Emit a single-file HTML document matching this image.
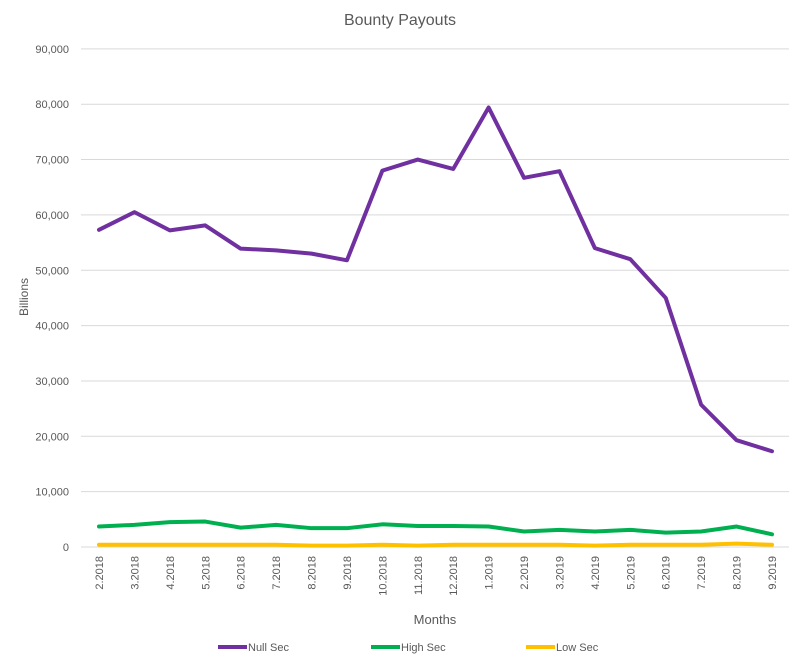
<!DOCTYPE html>
<html><head><meta charset="utf-8"><style>body{margin:0;background:#fff}</style></head><body>
<svg width="800" height="663" xmlns="http://www.w3.org/2000/svg" font-family="Liberation Sans, sans-serif">
<rect width="800" height="663" fill="#fff"/>
<text x="400" y="25" text-anchor="middle" font-size="16" fill="#595959">Bounty Payouts</text>
<g id="grid" stroke="#d9d9d9" stroke-width="1"></g>
<g id="yl" font-size="11" fill="#595959" text-anchor="end"></g>
<g id="xl" font-size="11" fill="#595959"></g>
<text x="28" y="297" font-size="12" fill="#595959" text-anchor="middle" transform="rotate(-90 28 297)">Billions</text>
<text x="435" y="624" font-size="13" fill="#595959" text-anchor="middle">Months</text>
<g id="lines" fill="none" stroke-width="4" stroke-linejoin="round" stroke-linecap="round"></g>
<g font-size="11" fill="#595959">
<line x1="218" y1="647" x2="247" y2="647" stroke="#7030a0" stroke-width="4"/><text x="248" y="651">Null Sec</text>
<line x1="371" y1="647" x2="400" y2="647" stroke="#00b050" stroke-width="4"/><text x="401" y="651">High Sec</text>
<line x1="526" y1="647" x2="555" y2="647" stroke="#ffc000" stroke-width="4"/><text x="556" y="651">Low Sec</text>
</g>
</svg>
<script>
const ns="http://www.w3.org/2000/svg";
const y0=547,k=55.35/10000,x0=99,dx=35.42;
function el(t,a,p,txt){const e=document.createElementNS(ns,t);for(const q in a)e.setAttribute(q,a[q]);if(txt!=null)e.textContent=txt;document.getElementById(p).appendChild(e);}
for(let i=0;i<=9;i++){const y=y0-i*10000*k;el('line',{x1:81,x2:789,y1:y,y2:y},'grid');el('text',{x:69,y:y+4},'yl',(i*10000).toLocaleString('en-US'));}
const labs=['2.2018','3.2018','4.2018','5.2018','6.2018','7.2018','8.2018','9.2018','10.2018','11.2018','12.2018','1.2019','2.2019','3.2019','4.2019','5.2019','6.2019','7.2019','8.2019','9.2019'];
labs.forEach((l,i)=>{const x=x0+i*dx+4;el('text',{x:x,y:556,'text-anchor':'end',transform:`rotate(-90 ${x} 556)`},'xl',l);});
const d={'#ffc000':[0.4,0.4,0.4,0.4,0.4,0.4,0.25,0.25,0.4,0.25,0.4,0.4,0.4,0.4,0.25,0.4,0.4,0.4,0.6,0.4],
'#00b050':[3.7,4.0,4.5,4.6,3.5,4.0,3.4,3.4,4.1,3.8,3.8,3.7,2.8,3.1,2.8,3.1,2.6,2.8,3.7,2.3],
'#7030a0':[57.3,60.5,57.2,58.1,53.9,53.6,53.0,51.8,68.0,70.0,68.3,79.4,66.7,67.9,54.0,52.0,45.0,25.7,19.3,17.3]};
for(const c in d){el('polyline',{stroke:c,points:d[c].map((v,i)=>(x0+i*dx)+','+(y0-v*1000*k)).join(' ')},'lines');}
</script>
</body></html>
